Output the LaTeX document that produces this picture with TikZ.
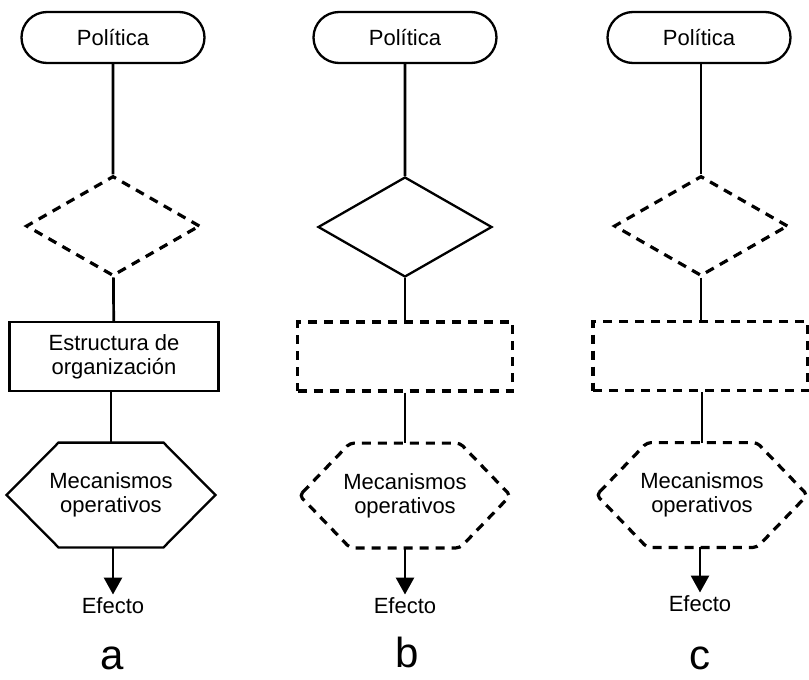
\documentclass[tikz,border=0pt]{standalone}
\usepackage{fontspec}
\setmainfont{Liberation Sans}
\usetikzlibrary{shapes.geometric,shapes.misc,arrows.meta,calc}

\begin{document}
\begin{tikzpicture}[x=0.5pt,y=-0.5pt,
  every node/.style={font=\fontsize{11}{12}\selectfont, inner sep=0pt, align=center},
  link/.style={line width=1.35pt},
  outcome/.style={link, -{Triangle[width=9pt,length=8.5pt]}, shorten >=1.5pt},
  solidline/.style={line width=1.15pt},
  dashline/.style={line width=1.6pt, dash pattern=on 4.5pt off 3.5pt},
  pill/.style={rounded rectangle, draw, solidline, minimum width=91.5pt, minimum height=25.5pt},
  decision/.style={diamond, minimum width=87pt, minimum height=50pt},
  orgbox/.style={rectangle, minimum height=34.5pt},
  hexbox/.style={rectangle, minimum height=52pt},
  caption/.style={font=\fontsize{21}{23}\selectfont, anchor=base}
]
\useasboundingbox (0,0) rectangle (809,680);

% ---------- column a ----------
\node[pill] (pa) at (113,37.5) {Política};
\node[decision, draw, dashline] (da) at (113,226) {};
\node[orgbox, draw, solidline, minimum width=104.5pt] (ra) at (114,356.5) {Estructura de\\organización};
\node[hexbox, minimum width=104pt] (ha) at (111,495) {Mecanismos\\operativos};
\draw[solidline] (ha.west) -- ($(ha.north)+(-52.5,0)$) -- ($(ha.north)+(52.5,0)$)
  -- (ha.east) -- ($(ha.south)+(52.5,0)$) -- ($(ha.south)+(-52.5,0)$) -- cycle;
\node (ea) at (113,606) {Efecto};
\node[caption] (la) at (112,669) {a};

\draw[link] (pa) -- (da);
\draw[link] (da) -- (ra);
\draw[link] (ra.south -| ha.north) -- (ha.north);
\draw[outcome] (ha.south -| ea.north) -- (ea.north);

% ---------- column b ----------
\node[pill] (pb) at (405,37.5) {Política};
\node[decision, draw, solidline] (db) at (405,227) {};
\node[orgbox, draw, dashline, minimum width=107.5pt] (rb) at (405,356.5) {};
\node[hexbox, minimum width=105pt] (hb) at (405,495.5) {Mecanismos\\operativos};
\draw[dashline, rounded corners=2pt] (hb.west) -- ($(hb.north)+(-55,0)$) -- ($(hb.north)+(55,0)$)
  -- (hb.east) -- ($(hb.south)+(55,0)$) -- ($(hb.south)+(-55,0)$) -- cycle;
\node (eb) at (405,606) {Efecto};
\node[caption] (lb) at (407,667) {b};

\draw[link] (pb) -- (db);
\draw[link] (db) -- (rb);
\draw[link] (rb) -- (hb);
\draw[outcome] (hb) -- (eb.north);

% ---------- column c ----------
\node[pill] (pc) at (699,37.5) {Política};
\node[decision, draw, dashline] (dc) at (701,226) {};
\node[orgbox, draw, dashline, minimum width=107.5pt] (rc) at (700.5,356) {};
\node[hexbox, minimum width=105pt] (hc) at (702,495) {Mecanismos\\operativos};
\draw[dashline, rounded corners=2pt] (hc.west) -- ($(hc.north)+(-55,0)$) -- ($(hc.north)+(55,0)$)
  -- (hc.east) -- ($(hc.south)+(55,0)$) -- ($(hc.south)+(-55,0)$) -- cycle;
\node (ec) at (700,604) {Efecto};
\node[caption] (lc) at (700,669) {c};

\draw[link] (pc.south -| dc.north) -- (dc.north);
\draw[link] (dc.south) -- (dc.south |- rc.north);
\draw[link] (rc.south -| hc.north) -- (hc.north);
\draw[outcome] (hc.south -| ec.north) -- (ec.north);
\end{tikzpicture}
\end{document}
